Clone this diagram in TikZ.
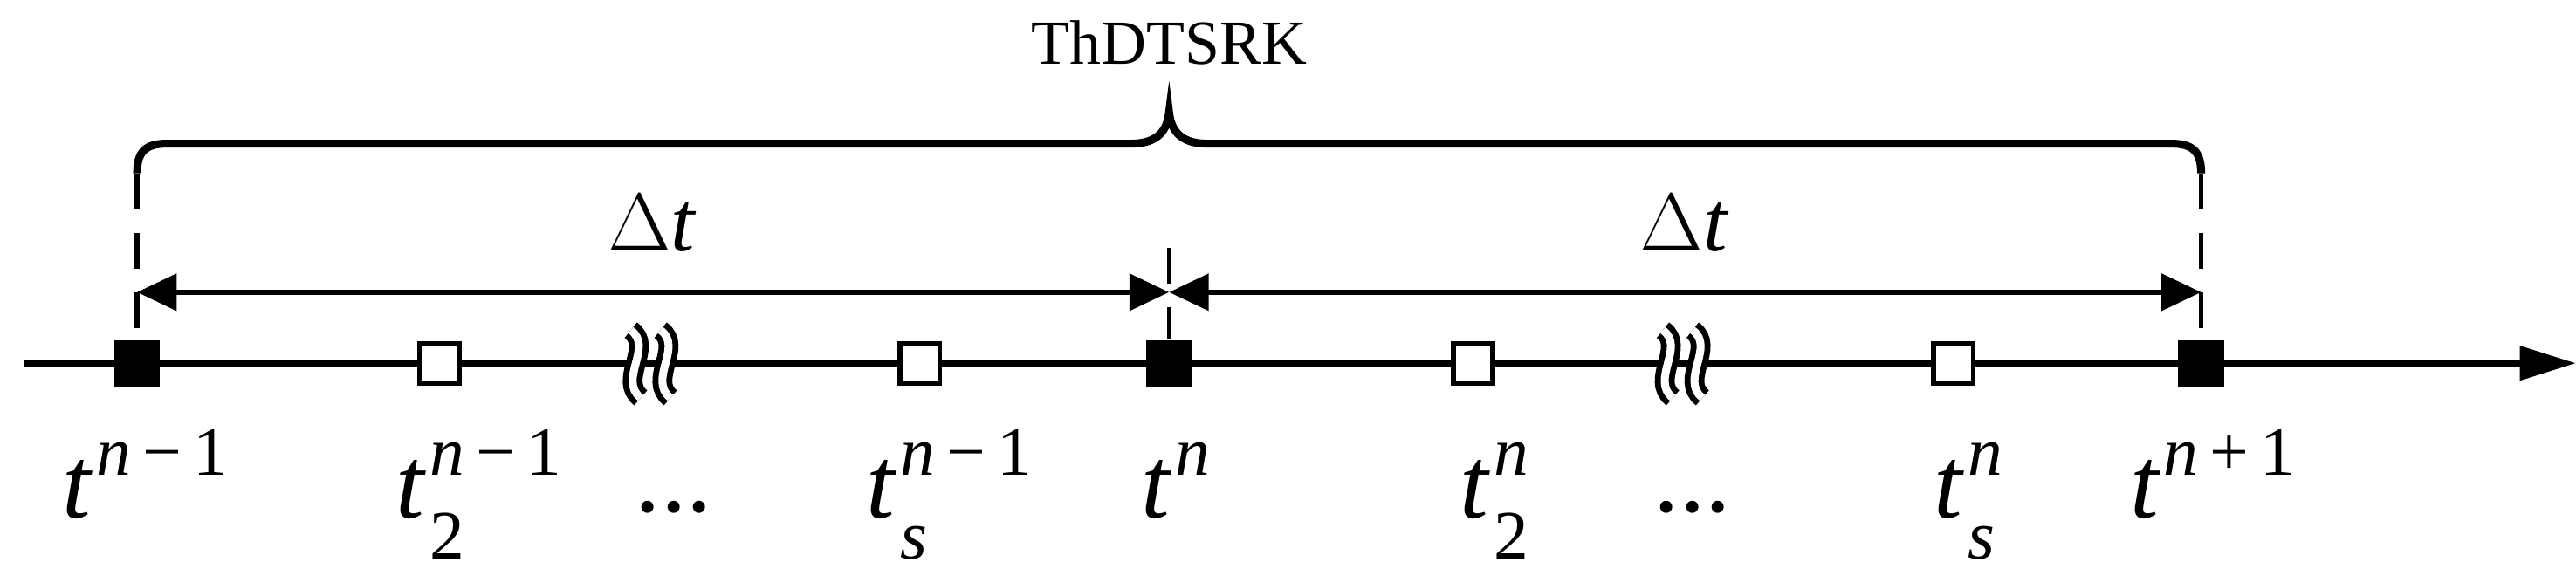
\documentclass[tikz,border=0pt]{standalone}
\usepackage{fontspec}
\setmainfont{Liberation Serif}
\usetikzlibrary{arrows.meta}
\newcommand{\tlab}[2]{\textit{t}\kern1pt\makebox[0pt][l]{\raisebox{-0.4em}{\fontsize{21}{21}\selectfont #2}}\raisebox{0.42em}{\fontsize{21}{21}\selectfont #1}}
\begin{document}
\begin{tikzpicture}[x=0.5pt,y=-0.5pt,
  axis/.style={line width=2.1pt},
  full/.style={fill=black,minimum width=14pt,minimum height=14pt,inner sep=0pt},
  open/.style={draw=black,fill=white,line width=1.5pt,minimum width=12pt,minimum height=12pt,inner sep=0pt},
  vdash/.style={line width=1.4pt,dash pattern=on 11pt off 7pt},
  darrow/.style={line width=1.5pt,{Triangle[length=12pt,width=11pt]}-{Triangle[length=12pt,width=11pt]}},
  lab/.style={font=\fontsize{31}{36}\selectfont,anchor=base},
  brace/.style={line width=2.4pt}]
\useasboundingbox (0,0) rectangle (1560,348.5);
% axis
\coordinate (a0) at (15,220);
\coordinate (a1) at (1560,220);
\draw[axis,-{Triangle[length=17pt,width=10pt]}] (a0) -- (a1);
% wavy marks
\foreach \x in {395,1020}{
  \foreach \d in {-9,9}{
    \draw[line width=6pt] (\x+\d-4,200) .. controls (\x+\d+10,210) and (\x+\d-12,230) .. (\x+\d+2,241);
    \draw[white,line width=2.4pt] (\x+\d-4,200) .. controls (\x+\d+10,210) and (\x+\d-12,230) .. (\x+\d+2,241);
  }
}
% dashed verticals
\coordinate (dl) at (83,105);
\coordinate (dm) at (708,150);
\coordinate (dr) at (1333,105);
\node[full] (f0) at (83,220) {};
\node[full] (f1) at (708,220) {};
\node[full] (f2) at (1333,220) {};
\draw[vdash] (dl) -- (f0.north);
\draw[vdash] (dm) -- (f1.north);
\draw[vdash] (dr) -- (f2.north);
\foreach \x/\n in {266/o1,557/o2,892/o3,1183/o4} \node[open] (\n) at (\x,220) {};
% delta t arrows
\coordinate (al) at (83,177);
\coordinate (am) at (708,177);
\coordinate (ar) at (1333,177);
\draw[darrow] (al) -- (am);
\draw[darrow] (am) -- (ar);
\node[font=\fontsize{26}{30}\selectfont] (dt1) at (395,135) {$\Delta$\textit{t}};
\node[font=\fontsize{26}{30}\selectfont] (dt2) at (1020,135) {$\Delta$\textit{t}};
% brace
\draw[brace] (83,105) .. controls (83,92) and (88,87) .. (101,87) -- (685,87)
  .. controls (702,87) and (707,78) .. (708,68)
  .. controls (709,78) and (714,87) .. (731,87) -- (1315,87)
  .. controls (1328,87) and (1333,92) .. (1333,105);
\node[font=\fontsize{19}{22}\selectfont] (th) at (708,26) {ThDTSRK};
% labels
\node[lab] (l1) at (88,314) {\tlab{\textit{n}\,−\,1}{}};
\node[lab] (l2) at (290,314) {\tlab{\textit{n}\,−\,1}{2}};
\node[lab] (l3) at (408,310) {...};
\node[lab] (l4) at (575,314) {\tlab{\textit{n}\,−\,1}{\textit{s}}};
\node[lab] (l5) at (712,314) {\tlab{\textit{n}}{}};
\node[lab] (l6) at (905,314) {\tlab{\textit{n}}{2}};
\node[lab] (l7) at (1025,310) {...};
\node[lab] (l8) at (1192,314) {\tlab{\textit{n}}{\textit{s}}};
\node[lab] (l9) at (1340,314) {\tlab{\textit{n}\,+\,1}{}};
\end{tikzpicture}
\end{document}
